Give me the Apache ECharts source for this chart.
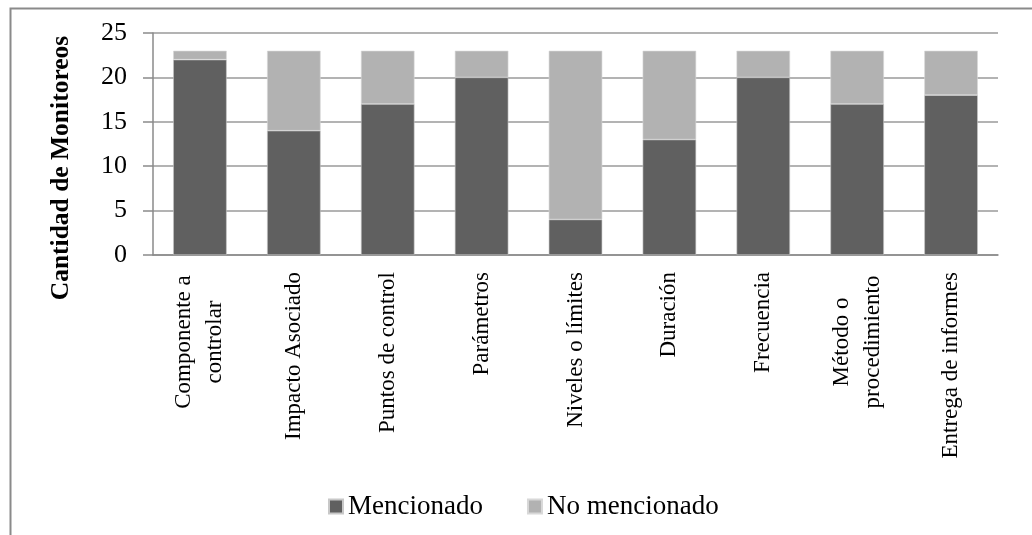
<!DOCTYPE html>
<html>
<head>
<meta charset="utf-8">
<script src="https://cdn.jsdelivr.net/npm/echarts@6/dist/echarts.min.js"></script>
<style>html,body{margin:0;padding:0;background:#fff}#c{width:1032px;height:535px}</style>
</head>
<body>
<div id="c"></div>
<script>
const categories = ["Componente a\ncontrolar", "Impacto Asociado", "Puntos de control", "Parámetros", "Niveles o límites", "Duración", "Frecuencia", "Método o\nprocedimiento", "Entrega de informes"];
const mencionado = [22, 14, 17, 20, 4, 13, 20, 17, 18];
const noMencionado = [1, 9, 6, 3, 19, 10, 3, 6, 5];
const yTicks = [0, 5, 10, 15, 20, 25];
const yTitle = "Cantidad de Monitoreos";

const serif = "Liberation Serif";
const chart = echarts.init(document.getElementById('c'));
chart.setOption({
  animation: false,
  backgroundColor: '#fff',
  graphic: [{
    type: 'rect', left: 8, top: 6, silent: true,
    shape: { x: 0, y: 0, width: 1040, height: 545 },
    style: { fill: 'none', stroke: '#8a8a8a', lineWidth: 2 }
  }, {
    type: 'text', x: 61, y: 168, rotation: Math.PI / 2, silent: true,
    style: { text: yTitle, align: 'center', verticalAlign: 'middle', fill: '#000',
      font: 'bold 25.5px "Liberation Serif"' }
  }],
  grid: { left: 153, right: 34, top: 33, bottom: 280, containLabel: false },
  legend: {
    left: 328, top: 493, padding: 0, itemWidth: 14, itemHeight: 14, itemGap: 44,
    icon: 'rect',
    textStyle: { fontFamily: serif, fontSize: 27, color: '#000' },
    data: ['Mencionado', 'No mencionado']
  },
  xAxis: {
    type: 'category', data: categories,
    axisLine: { show: true, lineStyle: { color: '#8a8a8a', width: 1.5 } },
    axisTick: { show: false },
    axisLabel: {
      rotate: 90, interval: 0, margin: 17, fontFamily: serif, fontSize: 23, lineHeight: 31, color: '#000',
      formatter: v => v.indexOf('\n') >= 0 ? '{c|' + v + '}' : v,
      rich: { c: { fontFamily: serif, fontSize: 23, lineHeight: 31, width: 140, align: 'center', color: '#000' } }
    }
  },
  yAxis: {
    type: 'value', min: 0, max: 25, interval: 5,
    axisLine: { show: true, lineStyle: { color: '#8a8a8a', width: 1.5 } },
    axisTick: { show: true, inside: false, length: 10, lineStyle: { color: '#8a8a8a', width: 1.5 } },
    splitLine: { show: true, lineStyle: { color: '#9a9a9a', width: 1.5 } },
    axisLabel: {
      margin: 26, fontFamily: serif, fontSize: 26, color: '#000',
      formatter: v => yTicks.includes(v) ? String(v) : ''
    }
  },
  series: [
    { name: 'Mencionado', type: 'bar', stack: 't', data: mencionado, barWidth: '57%',
      itemStyle: { color: '#606060', borderColor: '#c8c8c8', borderWidth: 0.6 } },
    { name: 'No mencionado', type: 'bar', stack: 't', data: noMencionado, barWidth: '57%',
      itemStyle: { color: '#b2b2b2', borderColor: '#d8d8d8', borderWidth: 0.6 } }
  ]
});
</script>
</body>
</html>
